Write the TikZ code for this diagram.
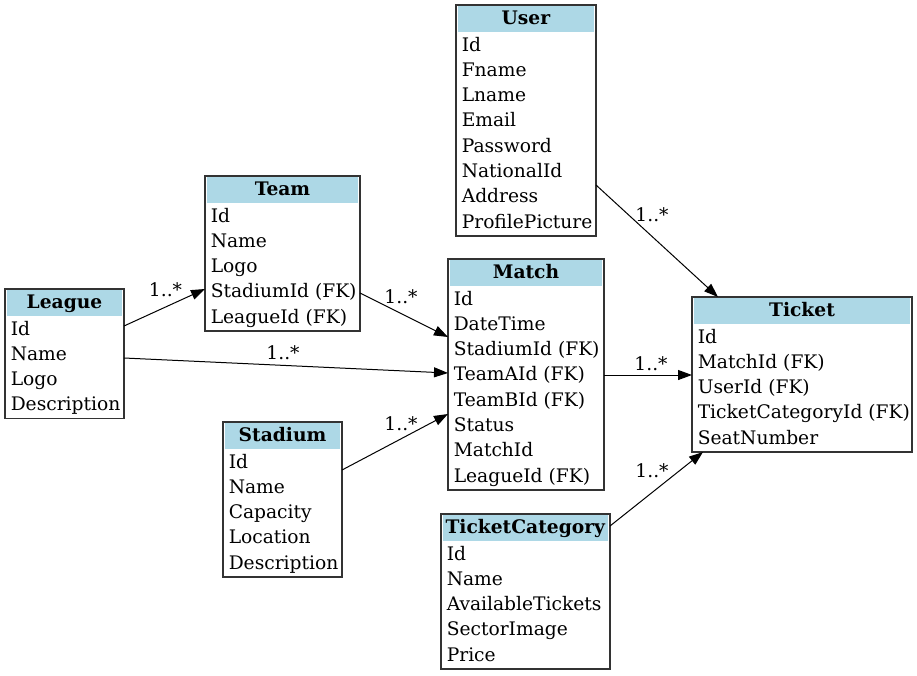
\documentclass[tikz,border=0pt]{standalone}
\usepackage{fontspec}
\setmainfont{DejaVu Serif}
\usetikzlibrary{calc,arrows.meta}
\definecolor{hdrblue}{RGB}{173,216,230}
\newcommand\entity[6]{%
  % #1 name, #2 top-left, #3 width, #4 rows, #5 title, #6 rows list
  \node[entbox, minimum width={#3*0.75pt}, minimum height={(28.5+25.3*#4)*0.75pt}, anchor=north west] (#1) at (#2) {};
  \fill[hdrblue] ($(#1.north west)+(2,1)$) rectangle ($(#1.north east)+(-2,27)$);
  \node[hdrtext] (#1-h) at ($(#1.north)+(0,19.9)$) {\textbf{#5}};
  \foreach \r [count=\i] in {#6} {
    \node[rowtext] (#1-\i) at ($(#1.north west)+(5.5,{20.7+25.3*\i})$) {\r};
  }
}
\begin{document}
\begin{tikzpicture}[x=0.75pt,y=-0.75pt,
  every node/.style={font=\fontsize{14pt}{16pt}\selectfont},
  entbox/.style={draw=black!80, line width=0.9pt, fill=white, inner sep=0pt, outer sep=0pt},
  hdrtext/.style={anchor=base, inner sep=0pt},
  rowtext/.style={anchor=base west, inner sep=0pt},
  lbl/.style={anchor=base, inner sep=0pt},
  rel/.style={draw=black, line width=0.75pt, -{Triangle[length=10.5pt,width=7.5pt]}}]
\useasboundingbox (0,0) rectangle (917,675);

\entity{user}{456,5}{140}{8}{User}{Id,Fname,Lname,Email,Password,NationalId,Address,ProfilePicture}
\entity{team}{205,176}{155}{5}{Team}{Id,Name,Logo,StadiumId (FK),LeagueId (FK)}
\entity{league}{5,289}{119}{4}{League}{Id,Name,Logo,Description}
\entity{match}{448,259}{156}{8}{Match}{Id,DateTime,StadiumId (FK),TeamAId (FK),TeamBId (FK),Status,MatchId,LeagueId (FK)}
\entity{stadium}{223,422}{119}{5}{Stadium}{Id,Name,Capacity,Location,Description}
\entity{ticket}{692,297}{220}{5}{Ticket}{Id,MatchId (FK),UserId (FK),TicketCategoryId (FK),SeatNumber}
\entity{tcat}{441,514}{169}{5}{TicketCategory}{Id,Name,AvailableTickets,SectorImage,Price}

\draw[rel] ($(league.north east)+(0,37)$) -- ($(team.north west)+(0,113)$);
\draw[rel] ($(league.north east)+(0,69)$) -- ($(match.north west)+(0,114)$);
\draw[rel] ($(team.north east)+(0,117)$) -- ($(match.north west)+(0,78)$);
\draw[rel] ($(stadium.north east)+(0,48)$) -- ($(match.north west)+(0,155)$);
\draw[rel] ($(match.north east)+(0,116)$) -- ($(ticket.north west)+(0,78)$);
\draw[rel] ($(user.north east)+(0,180)$) -- ($(ticket.north west)+(26,0)$);
\draw[rel] ($(tcat.north east)+(0,12)$) -- ($(ticket.south west)+(11,0)$);

\node[lbl] (l1) at (165.5,296) {1..*};
\node[lbl] (l2) at (283,359) {1..*};
\node[lbl] (l3) at (401,303) {1..*};
\node[lbl] (l4) at (401,430) {1..*};
\node[lbl] (l5) at (651,370) {1..*};
\node[lbl] (l6) at (652,221) {1..*};
\node[lbl] (l7) at (652,477) {1..*};
\end{tikzpicture}
\end{document}
